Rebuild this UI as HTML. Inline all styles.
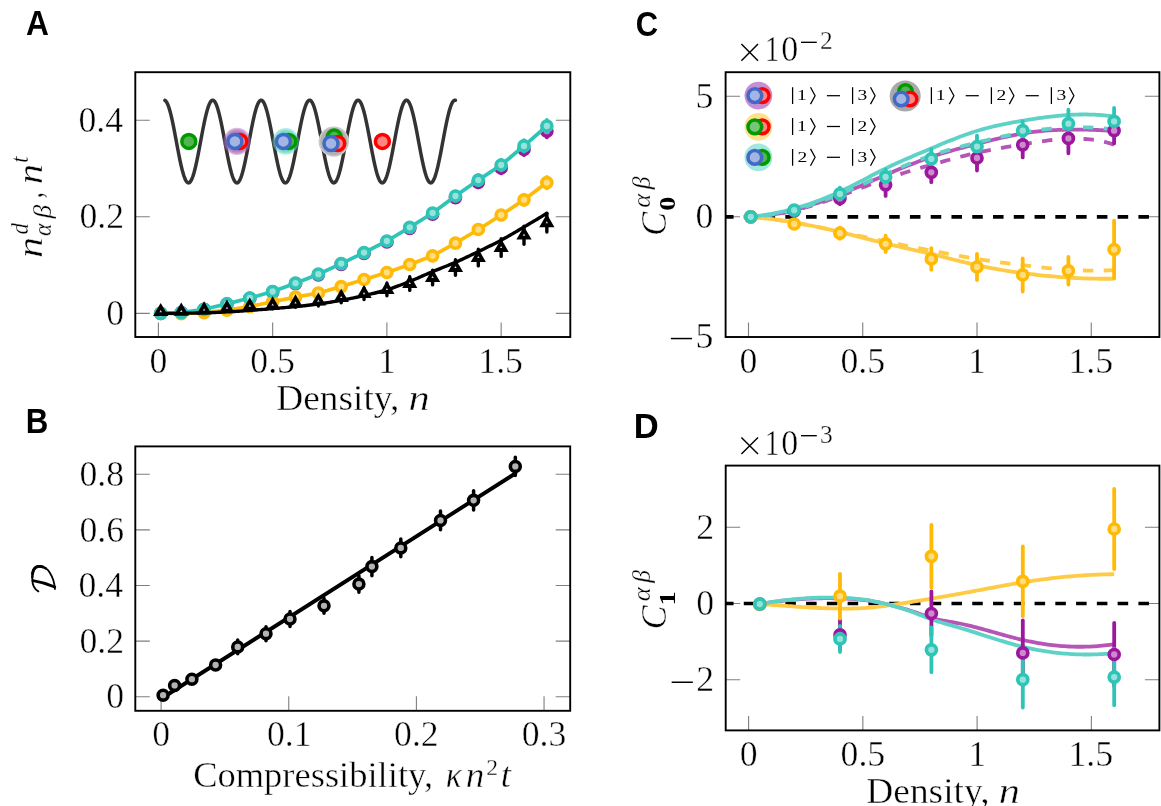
<!DOCTYPE html>
<html><head><meta charset="utf-8"><title>Figure</title>
<style>
html,body{margin:0;padding:0;background:#fff;}
body{width:1161px;height:806px;overflow:hidden;font-family:"Liberation Serif",serif;}
svg{display:block;will-change:transform;}
text{fill:#000;paint-order:fill stroke;}
</style></head><body>
<svg width="1161" height="806" viewBox="0 0 1161 806">
<rect width="1161" height="806" fill="#fff"/>
<path d="M158.40 337.00v-14.5M272.65 337.00v-14.5M386.90 337.00v-14.5M501.15 337.00v-14.5M135.30 313.40h14.5M570.30 313.40h-14.5M135.30 216.80h14.5M570.30 216.80h-14.5M135.30 120.20h14.5M570.30 120.20h-14.5" stroke="#7f7f7f" stroke-width="1.1" fill="none"/>
<path d="M164.90 100.35L165.38 100.65L165.87 101.11L166.35 101.73L166.84 102.51L167.32 103.44L167.81 104.53L168.29 105.76L168.78 107.13L169.26 108.64L169.75 110.28L170.23 112.04L170.72 113.92L171.20 115.91L171.69 118.00L172.17 120.18L172.66 122.45L173.14 124.79L173.63 127.20L174.11 129.67L174.60 132.18L175.08 134.73L175.57 137.30L176.05 139.90L176.54 142.50L177.02 145.09L177.51 147.68L177.99 150.24L178.48 152.76L178.96 155.24L179.45 157.66L179.93 160.03L180.42 162.31L180.90 164.52L181.39 166.64L181.87 168.65L182.36 170.56L182.84 172.36L183.33 174.03L183.81 175.57L184.30 176.98L184.78 178.25L185.27 179.38L185.75 180.35L186.24 181.17L186.72 181.84L187.21 182.34L187.69 182.69L188.18 182.87L188.66 182.89L189.15 182.74L189.63 182.43L190.12 181.96L190.60 181.33L191.09 180.55L191.57 179.61L192.06 178.51L192.54 177.28L193.03 175.90L193.51 174.38L194.00 172.74L194.48 170.97L194.97 169.09L195.45 167.09L195.94 165.00L196.42 162.81L196.91 160.54L197.39 158.19L197.88 155.78L198.36 153.31L198.85 150.80L199.33 148.25L199.82 145.67L200.30 143.07L200.79 140.47L201.27 137.88L201.76 135.30L202.24 132.74L202.73 130.22L203.21 127.74L203.70 125.32L204.18 122.96L204.67 120.68L205.15 118.47L205.64 116.36L206.12 114.35L206.61 112.45L207.09 110.66L207.58 108.99L208.06 107.45L208.55 106.05L209.03 104.79L209.52 103.67L210.00 102.70L210.49 101.89L210.97 101.23L211.46 100.74L211.94 100.40L212.43 100.23L212.91 100.22L213.40 100.37L213.88 100.69L214.37 101.16L214.85 101.80L215.34 102.60L215.82 103.54L216.31 104.64L216.79 105.89L217.28 107.27L217.76 108.80L218.25 110.45L218.73 112.22L219.22 114.11L219.70 116.11L220.19 118.21L220.67 120.40L221.16 122.67L221.64 125.02L222.13 127.44L222.61 129.91L223.10 132.43L223.58 134.98L224.07 137.56L224.55 140.15L225.04 142.75L225.52 145.35L226.01 147.93L226.49 150.48L226.98 153.00L227.46 155.48L227.95 157.90L228.43 160.25L228.92 162.53L229.40 164.73L229.89 166.84L230.37 168.84L230.86 170.74L231.34 172.53L231.83 174.19L232.31 175.72L232.80 177.11L233.28 178.37L233.77 179.48L234.25 180.44L234.74 181.25L235.22 181.89L235.71 182.38L236.19 182.71L236.68 182.88L237.16 182.88L237.65 182.72L238.13 182.40L238.62 181.91L239.10 181.26L239.59 180.46L240.07 179.51L240.56 178.40L241.04 177.15L241.53 175.75L242.01 174.23L242.50 172.57L242.98 170.79L243.47 168.89L243.95 166.89L244.44 164.79L244.92 162.59L245.41 160.31L245.89 157.96L246.38 155.54L246.86 153.07L247.35 150.55L247.83 147.99L248.32 145.41L248.80 142.82L249.29 140.22L249.77 137.62L250.26 135.05L250.74 132.49L251.23 129.97L251.71 127.50L252.20 125.08L252.68 122.73L253.17 120.46L253.65 118.26L254.14 116.16L254.62 114.16L255.11 112.27L255.59 110.49L256.08 108.84L256.56 107.31L257.05 105.92L257.53 104.67L258.02 103.57L258.50 102.62L258.99 101.82L259.47 101.18L259.96 100.70L260.44 100.38L260.93 100.22L261.41 100.22L261.89 100.39L262.38 100.72L262.86 101.22L263.35 101.87L263.83 102.68L264.32 103.64L264.80 104.76L265.29 106.02L265.77 107.42L266.26 108.95L266.74 110.61L267.23 112.40L267.71 114.30L268.20 116.31L268.68 118.42L269.17 120.62L269.65 122.90L270.14 125.26L270.62 127.68L271.11 130.15L271.59 132.68L272.08 135.23L272.56 137.81L273.05 140.41L273.53 143.01L274.02 145.60L274.50 148.18L274.99 150.73L275.47 153.25L275.96 155.72L276.44 158.13L276.93 160.48L277.41 162.75L277.90 164.94L278.38 167.04L278.87 169.04L279.35 170.92L279.84 172.69L280.32 174.34L280.81 175.86L281.29 177.24L281.78 178.48L282.26 179.58L282.75 180.53L283.23 181.32L283.72 181.95L284.20 182.42L284.69 182.74L285.17 182.89L285.66 182.87L286.14 182.69L286.63 182.35L287.11 181.85L287.60 181.19L288.08 180.38L288.57 179.40L289.05 178.28L289.54 177.02L290.02 175.61L290.51 174.07L290.99 172.40L291.48 170.61L291.96 168.70L292.45 166.69L292.93 164.58L293.42 162.37L293.90 160.09L294.39 157.73L294.87 155.30L295.36 152.82L295.84 150.30L296.33 147.74L296.81 145.16L297.30 142.57L297.78 139.97L298.27 137.37L298.75 134.79L299.24 132.24L299.72 129.73L300.21 127.26L300.69 124.85L301.18 122.51L301.66 120.24L302.15 118.05L302.63 115.96L303.12 113.97L303.60 112.09L304.09 110.32L304.57 108.68L305.06 107.17L305.54 105.79L306.03 104.56L306.51 103.47L307.00 102.53L307.48 101.75L307.97 101.12L308.45 100.66L308.94 100.35L309.42 100.21L309.91 100.23L310.39 100.42L310.88 100.77L311.36 101.28L311.85 101.94L312.33 102.77L312.82 103.75L313.30 104.88L313.79 106.15L314.27 107.56L314.76 109.11L315.24 110.78L315.73 112.58L316.21 114.49L316.70 116.51L317.18 118.63L317.67 120.84L318.15 123.13L318.64 125.49L319.12 127.92L319.61 130.40L320.09 132.92L320.58 135.48L321.06 138.07L321.55 140.66L322.03 143.26L322.52 145.86L323.00 148.43L323.49 150.98L323.97 153.49L324.46 155.96L324.94 158.36L325.43 160.71L325.91 162.97L326.40 165.15L326.88 167.24L327.37 169.22L327.85 171.10L328.34 172.86L328.82 174.50L329.31 176.00L329.79 177.37L330.28 178.60L330.76 179.68L331.25 180.61L331.73 181.39L332.22 182.00L332.70 182.46L333.19 182.76L333.67 182.89L334.16 182.86L334.64 182.67L335.13 182.31L335.61 181.80L336.10 181.12L336.58 180.29L337.07 179.30L337.55 178.17L338.04 176.89L338.52 175.47L339.01 173.91L339.49 172.23L339.98 170.43L340.46 168.51L340.95 166.49L341.43 164.36L341.92 162.15L342.40 159.86L342.89 157.49L343.37 155.06L343.86 152.58L344.34 150.05L344.83 147.49L345.31 144.91L345.80 142.31L346.28 139.71L346.77 137.12L347.25 134.54L347.74 132.00L348.22 129.49L348.71 127.02L349.19 124.62L349.68 122.28L350.16 120.02L350.65 117.84L351.13 115.76L351.62 113.78L352.10 111.91L352.59 110.16L353.07 108.53L353.56 107.03L354.04 105.67L354.53 104.45L355.01 103.37L355.50 102.45L355.98 101.68L356.47 101.07L356.95 100.62L357.44 100.33L357.92 100.21L358.41 100.24L358.89 100.45L359.37 100.81L359.86 101.33L360.34 102.02L360.83 102.86L361.31 103.85L361.80 104.99L362.28 106.28L362.77 107.71L363.25 109.27L363.74 110.95L364.22 112.76L364.71 114.69L365.19 116.72L365.68 118.84L366.16 121.06L366.65 123.36L367.13 125.73L367.62 128.16L368.10 130.64L368.59 133.17L369.07 135.73L369.56 138.32L370.04 140.92L370.53 143.52L371.01 146.11L371.50 148.68L371.98 151.23L372.47 153.74L372.95 156.20L373.44 158.60L373.92 160.93L374.41 163.19L374.89 165.36L375.38 167.44L375.86 169.41L376.35 171.28L376.83 173.03L377.32 174.65L377.80 176.14L378.29 177.50L378.77 178.71L379.26 179.78L379.74 180.69L380.23 181.45L380.71 182.06L381.20 182.50L381.68 182.78L382.17 182.90L382.65 182.85L383.14 182.64L383.62 182.27L384.11 181.74L384.59 181.04L385.08 180.20L385.56 179.20L386.05 178.05L386.53 176.75L387.02 175.32L387.50 173.75L387.99 172.06L388.47 170.24L388.96 168.32L389.44 166.28L389.93 164.15L390.41 161.93L390.90 159.63L391.38 157.26L391.87 154.82L392.35 152.33L392.84 149.80L393.32 147.24L393.81 144.65L394.29 142.06L394.78 139.46L395.26 136.86L395.75 134.29L396.23 131.75L396.72 129.24L397.20 126.79L397.69 124.39L398.17 122.06L398.66 119.80L399.14 117.64L399.63 115.56L400.11 113.59L400.60 111.73L401.08 109.99L401.57 108.37L402.05 106.89L402.54 105.54L403.02 104.33L403.51 103.27L403.99 102.37L404.48 101.61L404.96 101.02L405.45 100.58L405.93 100.31L406.42 100.20L406.90 100.26L407.39 100.47L407.87 100.85L408.36 101.39L408.84 102.09L409.33 102.95L409.81 103.96L410.30 105.11L410.78 106.41L411.27 107.85L411.75 109.43L412.24 111.13L412.72 112.95L413.21 114.88L413.69 116.92L414.18 119.06L414.66 121.28L415.15 123.59L415.63 125.96L416.12 128.40L416.60 130.89L417.09 133.42L417.57 135.99L418.06 138.57L418.54 141.17L419.03 143.77L419.51 146.36L420.00 148.93L420.48 151.48L420.97 153.98L421.45 156.43L421.94 158.83L422.42 161.16L422.91 163.41L423.39 165.57L423.88 167.64L424.36 169.60L424.85 171.46L425.33 173.19L425.82 174.80L426.30 176.28L426.79 177.62L427.27 178.82L427.76 179.87L428.24 180.77L428.73 181.52L429.21 182.11L429.70 182.53L430.18 182.80L430.67 182.90L431.15 182.84L431.64 182.61L432.12 182.22L432.61 181.68L433.09 180.97L433.58 180.11L434.06 179.09L434.55 177.93L435.03 176.62L435.52 175.17L436.00 173.59L436.49 171.89L436.97 170.06L437.46 168.12L437.94 166.08L438.43 163.94L438.91 161.71L439.40 159.40L439.88 157.02L440.37 154.58L440.85 152.09L441.34 149.55L441.82 146.99L442.31 144.40L442.79 141.80L443.28 139.20L443.76 136.61L444.25 134.04L444.73 131.50L445.22 129.00L445.70 126.55L446.19 124.16L446.67 121.83L447.16 119.59L447.64 117.43L448.13 115.36L448.61 113.41L449.10 111.56L449.58 109.83L450.07 108.22L450.55 106.75L451.04 105.42L451.52 104.22L452.01 103.18L452.49 102.29L452.98 101.55L453.46 100.97L453.95 100.55L454.43 100.29L454.92 100.20L455.40 100.27" fill="none" stroke="#333333" stroke-width="3.5" stroke-linejoin="round" stroke-linecap="round"/>
<circle cx="188.80" cy="141.40" r="7.0" fill="#52b552" stroke="#009a00" stroke-width="3.5"/>
<circle cx="237.00" cy="141.40" r="13.70" fill="#ab6ab8" fill-opacity="0.45"/>
<circle cx="237.00" cy="141.40" r="12.33" fill="#ab6ab8" fill-opacity="0.45"/>
<circle cx="237.00" cy="141.40" r="10.96" fill="#ab6ab8" fill-opacity="0.45"/>
<circle cx="237.00" cy="141.40" r="9.59" fill="#ab6ab8" fill-opacity="0.45"/>
<circle cx="239.80" cy="141.40" r="7.0" fill="#ff8585" stroke="#ff0000" stroke-width="3.5"/>
<circle cx="234.90" cy="141.40" r="7.0" fill="#a3b5e2" stroke="#4169c8" stroke-width="3.5"/>
<circle cx="285.70" cy="141.40" r="13.30" fill="#5fd3c4" fill-opacity="0.45"/>
<circle cx="285.70" cy="141.40" r="11.97" fill="#5fd3c4" fill-opacity="0.45"/>
<circle cx="285.70" cy="141.40" r="10.64" fill="#5fd3c4" fill-opacity="0.45"/>
<circle cx="285.70" cy="141.40" r="9.31" fill="#5fd3c4" fill-opacity="0.45"/>
<circle cx="288.80" cy="141.40" r="7.0" fill="#52b552" stroke="#009a00" stroke-width="3.5"/>
<circle cx="283.40" cy="141.40" r="7.0" fill="#a3b5e2" stroke="#4169c8" stroke-width="3.5"/>
<circle cx="333.8" cy="141.6" r="15.2" fill="#c9c9c9"/><circle cx="333.8" cy="141.6" r="13.6" fill="#b2b2b2"/>
<circle cx="334.20" cy="137.10" r="7.0" fill="#52b552" stroke="#009a00" stroke-width="3.5"/>
<circle cx="337.70" cy="143.50" r="7.0" fill="#ff8585" stroke="#ff0000" stroke-width="3.5"/>
<circle cx="331.00" cy="143.50" r="7.0" fill="#a3b5e2" stroke="#4169c8" stroke-width="3.5"/>
<circle cx="382.40" cy="141.40" r="7.0" fill="#ff8585" stroke="#ff0000" stroke-width="3.5"/>
<path d="M455.45 192.95V202.25M478.30 177.15V187.45M501.15 162.55V173.45M524.00 143.75V155.25M546.85 124.95V137.45" stroke="#9c179e" stroke-width="3.7" stroke-linecap="round" fill="none"/>
<circle cx="160.69" cy="313.30" r="5.0" fill="#cd8bce" stroke="#9c179e" stroke-width="3.7"/>
<circle cx="181.25" cy="312.60" r="5.0" fill="#cd8bce" stroke="#9c179e" stroke-width="3.7"/>
<circle cx="204.10" cy="309.30" r="5.0" fill="#cd8bce" stroke="#9c179e" stroke-width="3.7"/>
<circle cx="226.95" cy="304.10" r="5.0" fill="#cd8bce" stroke="#9c179e" stroke-width="3.7"/>
<circle cx="249.80" cy="298.30" r="5.0" fill="#cd8bce" stroke="#9c179e" stroke-width="3.7"/>
<circle cx="272.65" cy="291.90" r="5.0" fill="#cd8bce" stroke="#9c179e" stroke-width="3.7"/>
<circle cx="295.50" cy="283.70" r="5.0" fill="#cd8bce" stroke="#9c179e" stroke-width="3.7"/>
<circle cx="318.35" cy="274.80" r="5.0" fill="#cd8bce" stroke="#9c179e" stroke-width="3.7"/>
<circle cx="341.20" cy="264.30" r="5.0" fill="#cd8bce" stroke="#9c179e" stroke-width="3.7"/>
<circle cx="364.05" cy="253.40" r="5.0" fill="#cd8bce" stroke="#9c179e" stroke-width="3.7"/>
<circle cx="386.90" cy="241.90" r="5.0" fill="#cd8bce" stroke="#9c179e" stroke-width="3.7"/>
<circle cx="409.75" cy="228.30" r="5.0" fill="#cd8bce" stroke="#9c179e" stroke-width="3.7"/>
<circle cx="432.60" cy="214.20" r="5.0" fill="#cd8bce" stroke="#9c179e" stroke-width="3.7"/>
<circle cx="455.45" cy="197.60" r="5.0" fill="#cd8bce" stroke="#9c179e" stroke-width="3.7"/>
<circle cx="478.30" cy="182.30" r="5.0" fill="#cd8bce" stroke="#9c179e" stroke-width="3.7"/>
<circle cx="501.15" cy="168.00" r="5.0" fill="#cd8bce" stroke="#9c179e" stroke-width="3.7"/>
<circle cx="524.00" cy="149.50" r="5.0" fill="#cd8bce" stroke="#9c179e" stroke-width="3.7"/>
<circle cx="546.85" cy="131.20" r="5.0" fill="#cd8bce" stroke="#9c179e" stroke-width="3.7"/>
<path d="M160.69 313.40L181.25 313.60L204.10 312.60L226.95 310.20L249.80 306.60L272.65 301.80L295.50 297.10L318.35 293.00L341.20 286.60L364.05 279.50L386.90 272.50L409.75 264.50L432.60 255.80L455.45 243.20L478.30 229.50L501.15 215.00L524.00 199.80L546.85 182.60" fill="none" stroke="#ffba08" stroke-width="3.7" stroke-linejoin="round"/>
<path d="M524.00 194.65V204.95M546.85 176.75V188.45" stroke="#ffba08" stroke-width="3.7" stroke-linecap="round" fill="none"/>
<circle cx="160.69" cy="313.40" r="5.0" fill="#ffdd83" stroke="#ffba08" stroke-width="3.7"/>
<circle cx="181.25" cy="313.60" r="5.0" fill="#ffdd83" stroke="#ffba08" stroke-width="3.7"/>
<circle cx="204.10" cy="312.60" r="5.0" fill="#ffdd83" stroke="#ffba08" stroke-width="3.7"/>
<circle cx="226.95" cy="310.20" r="5.0" fill="#ffdd83" stroke="#ffba08" stroke-width="3.7"/>
<circle cx="249.80" cy="306.60" r="5.0" fill="#ffdd83" stroke="#ffba08" stroke-width="3.7"/>
<circle cx="272.65" cy="301.80" r="5.0" fill="#ffdd83" stroke="#ffba08" stroke-width="3.7"/>
<circle cx="295.50" cy="297.10" r="5.0" fill="#ffdd83" stroke="#ffba08" stroke-width="3.7"/>
<circle cx="318.35" cy="293.00" r="5.0" fill="#ffdd83" stroke="#ffba08" stroke-width="3.7"/>
<circle cx="341.20" cy="286.60" r="5.0" fill="#ffdd83" stroke="#ffba08" stroke-width="3.7"/>
<circle cx="364.05" cy="279.50" r="5.0" fill="#ffdd83" stroke="#ffba08" stroke-width="3.7"/>
<circle cx="386.90" cy="272.50" r="5.0" fill="#ffdd83" stroke="#ffba08" stroke-width="3.7"/>
<circle cx="409.75" cy="264.50" r="5.0" fill="#ffdd83" stroke="#ffba08" stroke-width="3.7"/>
<circle cx="432.60" cy="255.80" r="5.0" fill="#ffdd83" stroke="#ffba08" stroke-width="3.7"/>
<circle cx="455.45" cy="243.20" r="5.0" fill="#ffdd83" stroke="#ffba08" stroke-width="3.7"/>
<circle cx="478.30" cy="229.50" r="5.0" fill="#ffdd83" stroke="#ffba08" stroke-width="3.7"/>
<circle cx="501.15" cy="215.00" r="5.0" fill="#ffdd83" stroke="#ffba08" stroke-width="3.7"/>
<circle cx="524.00" cy="199.80" r="5.0" fill="#ffdd83" stroke="#ffba08" stroke-width="3.7"/>
<circle cx="546.85" cy="182.60" r="5.0" fill="#ffdd83" stroke="#ffba08" stroke-width="3.7"/>
<path d="M160.69 313.30L181.25 312.60L204.10 309.30L226.95 303.90L249.80 298.00L272.65 291.50L295.50 283.20L318.35 274.20L341.20 263.60L364.05 252.60L386.90 241.00L409.75 227.30L432.60 213.00L455.45 196.00L478.30 180.10L501.15 165.00L524.00 145.90L546.85 126.00" fill="none" stroke="#2ec4b6" stroke-width="3.7" stroke-linejoin="round"/>
<path d="M455.45 191.35V200.65M478.30 174.95V185.25M501.15 159.55V170.45M524.00 140.15V151.65M546.85 119.75V132.25" stroke="#2ec4b6" stroke-width="3.7" stroke-linecap="round" fill="none"/>
<circle cx="160.69" cy="313.30" r="5.0" fill="#97e2da" stroke="#2ec4b6" stroke-width="3.7"/>
<circle cx="181.25" cy="312.60" r="5.0" fill="#97e2da" stroke="#2ec4b6" stroke-width="3.7"/>
<circle cx="204.10" cy="309.30" r="5.0" fill="#97e2da" stroke="#2ec4b6" stroke-width="3.7"/>
<circle cx="226.95" cy="303.90" r="5.0" fill="#97e2da" stroke="#2ec4b6" stroke-width="3.7"/>
<circle cx="249.80" cy="298.00" r="5.0" fill="#97e2da" stroke="#2ec4b6" stroke-width="3.7"/>
<circle cx="272.65" cy="291.50" r="5.0" fill="#97e2da" stroke="#2ec4b6" stroke-width="3.7"/>
<circle cx="295.50" cy="283.20" r="5.0" fill="#97e2da" stroke="#2ec4b6" stroke-width="3.7"/>
<circle cx="318.35" cy="274.20" r="5.0" fill="#97e2da" stroke="#2ec4b6" stroke-width="3.7"/>
<circle cx="341.20" cy="263.60" r="5.0" fill="#97e2da" stroke="#2ec4b6" stroke-width="3.7"/>
<circle cx="364.05" cy="252.60" r="5.0" fill="#97e2da" stroke="#2ec4b6" stroke-width="3.7"/>
<circle cx="386.90" cy="241.00" r="5.0" fill="#97e2da" stroke="#2ec4b6" stroke-width="3.7"/>
<circle cx="409.75" cy="227.30" r="5.0" fill="#97e2da" stroke="#2ec4b6" stroke-width="3.7"/>
<circle cx="432.60" cy="213.00" r="5.0" fill="#97e2da" stroke="#2ec4b6" stroke-width="3.7"/>
<circle cx="455.45" cy="196.00" r="5.0" fill="#97e2da" stroke="#2ec4b6" stroke-width="3.7"/>
<circle cx="478.30" cy="180.10" r="5.0" fill="#97e2da" stroke="#2ec4b6" stroke-width="3.7"/>
<circle cx="501.15" cy="165.00" r="5.0" fill="#97e2da" stroke="#2ec4b6" stroke-width="3.7"/>
<circle cx="524.00" cy="145.90" r="5.0" fill="#97e2da" stroke="#2ec4b6" stroke-width="3.7"/>
<circle cx="546.85" cy="126.00" r="5.0" fill="#97e2da" stroke="#2ec4b6" stroke-width="3.7"/>
<path d="M160.69 313.40L162.63 313.40L164.57 313.40L166.51 313.39L168.45 313.38L170.39 313.37L172.33 313.36L174.27 313.35L176.21 313.34L178.15 313.32L180.09 313.31L182.03 313.29L183.97 313.27L185.91 313.24L187.85 313.21L189.79 313.17L191.73 313.13L193.67 313.08L195.61 313.03L197.56 312.98L199.50 312.93L201.44 312.88L203.38 312.82L205.32 312.76L207.26 312.71L209.20 312.64L211.14 312.58L213.08 312.50L215.02 312.43L216.96 312.35L218.90 312.27L220.84 312.19L222.78 312.10L224.72 312.01L226.66 311.91L228.60 311.82L230.54 311.71L232.48 311.59L234.43 311.47L236.37 311.35L238.31 311.22L240.25 311.08L242.19 310.95L244.13 310.81L246.07 310.67L248.01 310.53L249.95 310.39L251.89 310.25L253.83 310.10L255.77 309.96L257.71 309.81L259.65 309.66L261.59 309.50L263.53 309.35L265.47 309.19L267.41 309.03L269.35 308.87L271.30 308.71L273.24 308.55L275.18 308.39L277.12 308.23L279.06 308.07L281.00 307.91L282.94 307.74L284.88 307.58L286.82 307.41L288.76 307.23L290.70 307.06L292.64 306.88L294.58 306.69L296.52 306.50L298.46 306.30L300.40 306.10L302.34 305.90L304.28 305.69L306.22 305.48L308.17 305.26L310.11 305.03L312.05 304.80L313.99 304.56L315.93 304.32L317.87 304.06L319.81 303.80L321.75 303.53L323.69 303.24L325.63 302.95L327.57 302.64L329.51 302.33L331.45 302.01L333.39 301.68L335.33 301.34L337.27 301.00L339.21 300.66L341.15 300.31L343.09 299.95L345.04 299.59L346.98 299.21L348.92 298.83L350.86 298.44L352.80 298.05L354.74 297.64L356.68 297.23L358.62 296.81L360.56 296.38L362.50 295.95L364.44 295.51L366.38 295.07L368.32 294.62L370.26 294.17L372.20 293.71L374.14 293.24L376.08 292.76L378.02 292.26L379.96 291.76L381.91 291.23L383.85 290.69L385.79 290.13L387.73 289.55L389.67 288.93L391.61 288.29L393.55 287.62L395.49 286.92L397.43 286.21L399.37 285.48L401.31 284.73L403.25 283.97L405.19 283.21L407.13 282.44L409.07 281.67L411.01 280.89L412.95 280.10L414.89 279.29L416.83 278.46L418.78 277.61L420.72 276.76L422.66 275.91L424.60 275.05L426.54 274.20L428.48 273.36L430.42 272.52L432.36 271.70L434.30 270.90L436.24 270.11L438.18 269.32L440.12 268.55L442.06 267.78L444.00 267.01L445.94 266.24L447.88 265.46L449.82 264.67L451.76 263.87L453.70 263.05L455.65 262.21L457.59 261.36L459.53 260.49L461.47 259.61L463.41 258.71L465.35 257.81L467.29 256.89L469.23 255.97L471.17 255.04L473.11 254.11L475.05 253.17L476.99 252.23L478.93 251.29L480.87 250.36L482.81 249.42L484.75 248.48L486.69 247.54L488.63 246.59L490.57 245.63L492.52 244.66L494.46 243.68L496.40 242.69L498.34 241.69L500.28 240.67L502.22 239.62L504.16 238.56L506.10 237.48L508.04 236.38L509.98 235.26L511.92 234.13L513.86 233.00L515.80 231.85L517.74 230.70L519.68 229.55L521.62 228.40L523.56 227.26L525.50 226.11L527.44 224.97L529.39 223.82L531.33 222.66L533.27 221.51L535.21 220.34L537.15 219.18L539.09 218.01L541.03 216.84L542.97 215.66L544.91 214.48L546.85 213.30" fill="none" stroke="#000" stroke-width="3.4" stroke-linejoin="round" stroke-linecap="round"/>
<path d="M249.80 303.90V308.50M272.65 301.20V308.80M295.50 298.70V307.30M318.35 296.40V306.00M341.20 292.20V302.80M364.05 287.90V299.50M386.90 283.20V295.80M409.75 276.80V290.40M432.60 270.30V284.90M455.45 259.70V275.30M478.30 249.30V265.90M501.15 238.80V256.40M524.00 226.10V244.30M546.85 213.50V232.10" stroke="#000" stroke-width="3.4" stroke-linecap="round" fill="none"/>
<path d="M160.69 302.90L168.28 316.10H153.09Z" fill="#000"/><path d="M160.69 310.10l1.2 2.1h-2.4z" fill="#d9d9d9"/>
<path d="M181.25 302.60L188.85 315.80H173.65Z" fill="#000"/><path d="M181.25 309.80l1.2 2.1h-2.4z" fill="#d9d9d9"/>
<path d="M204.10 301.20L211.70 314.40H196.50Z" fill="#000"/><path d="M204.10 308.40l1.2 2.1h-2.4z" fill="#d9d9d9"/>
<path d="M226.95 299.50L234.55 312.70H219.35Z" fill="#000"/><path d="M226.95 306.70l1.2 2.1h-2.4z" fill="#d9d9d9"/>
<path d="M249.80 297.40L257.40 310.60H242.20Z" fill="#000"/><path d="M249.80 304.60l1.2 2.1h-2.4z" fill="#d9d9d9"/>
<path d="M272.65 296.20L280.25 309.40H265.05Z" fill="#000"/><path d="M272.65 303.40l1.2 2.1h-2.4z" fill="#d9d9d9"/>
<path d="M295.50 294.20L303.10 307.40H287.90Z" fill="#000"/><path d="M295.50 301.40l1.2 2.1h-2.4z" fill="#d9d9d9"/>
<path d="M318.35 292.40L325.95 305.60H310.75Z" fill="#000"/><path d="M318.35 299.60l1.2 2.1h-2.4z" fill="#d9d9d9"/>
<path d="M341.20 288.70L348.80 301.90H333.60Z" fill="#000"/><path d="M341.20 295.90l1.2 2.1h-2.4z" fill="#d9d9d9"/>
<path d="M364.05 284.90L371.65 298.10H356.45Z" fill="#000"/><path d="M364.05 292.10l1.2 2.1h-2.4z" fill="#d9d9d9"/>
<path d="M386.90 280.70L394.50 293.90H379.30Z" fill="#000"/><path d="M386.90 287.90l1.2 2.1h-2.4z" fill="#d9d9d9"/>
<path d="M409.75 274.80L417.35 288.00H402.15Z" fill="#000"/><path d="M409.75 282.00l1.2 2.1h-2.4z" fill="#d9d9d9"/>
<path d="M432.60 268.80L440.20 282.00H425.00Z" fill="#000"/><path d="M432.60 276.00l1.2 2.1h-2.4z" fill="#d9d9d9"/>
<path d="M455.45 258.70L463.05 271.90H447.85Z" fill="#000"/><path d="M455.45 265.90l1.2 2.1h-2.4z" fill="#d9d9d9"/>
<path d="M478.30 248.80L485.90 262.00H470.70Z" fill="#000"/><path d="M478.30 256.00l1.2 2.1h-2.4z" fill="#d9d9d9"/>
<path d="M501.15 238.80L508.75 252.00H493.55Z" fill="#000"/><path d="M501.15 246.00l1.2 2.1h-2.4z" fill="#d9d9d9"/>
<path d="M524.00 226.40L531.60 239.60H516.40Z" fill="#000"/><path d="M524.00 233.60l1.2 2.1h-2.4z" fill="#d9d9d9"/>
<path d="M546.85 214.00L554.45 227.20H539.25Z" fill="#000"/><path d="M546.85 221.20l1.2 2.1h-2.4z" fill="#d9d9d9"/>
<rect x="135.30" y="72.20" width="435.00" height="264.80" fill="none" stroke="#000" stroke-width="1.9"/>
<path d="M161.10 710.80v-14.5M288.75 710.80v-14.5M416.40 710.80v-14.5M544.05 710.80v-14.5M135.30 696.80h14.5M570.20 696.80h-14.5M135.30 641.16h14.5M570.20 641.16h-14.5M135.30 585.52h14.5M570.20 585.52h-14.5M135.30 529.88h14.5M570.20 529.88h-14.5M135.30 474.24h14.5M570.20 474.24h-14.5" stroke="#7f7f7f" stroke-width="1.1" fill="none"/>
<path d="M163.00 697.50L515.30 473.50" fill="none" stroke="#000" stroke-width="3.9" stroke-linejoin="round" stroke-linecap="round"/>
<path d="M237.70 640.05V653.75M266.00 626.65V640.75M290.00 611.55V626.45M324.00 598.35V613.25M358.90 575.85V592.35M371.90 557.55V575.65M400.80 539.05V556.75M440.50 510.95V529.85M473.60 490.65V509.95M515.30 457.35V475.45" stroke="#000" stroke-width="3.5" stroke-linecap="round" fill="none"/>
<circle cx="163.10" cy="695.20" r="4.95" fill="#b3b3b3" stroke="#000" stroke-width="3.6"/>
<circle cx="174.60" cy="685.40" r="4.95" fill="#b3b3b3" stroke="#000" stroke-width="3.6"/>
<circle cx="191.90" cy="679.20" r="4.95" fill="#b3b3b3" stroke="#000" stroke-width="3.6"/>
<circle cx="215.60" cy="665.00" r="4.95" fill="#b3b3b3" stroke="#000" stroke-width="3.6"/>
<circle cx="237.70" cy="646.90" r="4.95" fill="#b3b3b3" stroke="#000" stroke-width="3.6"/>
<circle cx="266.00" cy="633.70" r="4.95" fill="#b3b3b3" stroke="#000" stroke-width="3.6"/>
<circle cx="290.00" cy="619.00" r="4.95" fill="#b3b3b3" stroke="#000" stroke-width="3.6"/>
<circle cx="324.00" cy="605.80" r="4.95" fill="#b3b3b3" stroke="#000" stroke-width="3.6"/>
<circle cx="358.90" cy="584.10" r="4.95" fill="#b3b3b3" stroke="#000" stroke-width="3.6"/>
<circle cx="371.90" cy="566.60" r="4.95" fill="#b3b3b3" stroke="#000" stroke-width="3.6"/>
<circle cx="400.80" cy="547.90" r="4.95" fill="#b3b3b3" stroke="#000" stroke-width="3.6"/>
<circle cx="440.50" cy="520.40" r="4.95" fill="#b3b3b3" stroke="#000" stroke-width="3.6"/>
<circle cx="473.60" cy="500.30" r="4.95" fill="#b3b3b3" stroke="#000" stroke-width="3.6"/>
<circle cx="515.30" cy="466.40" r="4.95" fill="#b3b3b3" stroke="#000" stroke-width="3.6"/>
<rect x="135.30" y="446.40" width="434.90" height="264.40" fill="none" stroke="#000" stroke-width="1.9"/>
<path d="M748.50 337.00v-14.5M862.75 337.00v-14.5M977.00 337.00v-14.5M1091.25 337.00v-14.5M725.60 337.30h14.5M1159.40 337.30h-14.5M725.60 216.80h14.5M1159.40 216.80h-14.5M725.60 96.30h14.5M1159.40 96.30h-14.5" stroke="#7f7f7f" stroke-width="1.1" fill="none"/>
<path d="M723.0 216.8H1158.9" stroke="#000" stroke-width="3.7" stroke-dasharray="10.55 10.22" fill="none" clip-path="url(#clipC)"/>
<clipPath id="clipC"><rect x="725.6" y="72.2" width="423.5" height="264.8"/></clipPath>
<path d="M750.78 216.80L753.22 216.69L755.66 216.54L758.10 216.36L760.54 216.15L762.98 215.90L765.42 215.62L767.85 215.30L770.29 214.95L772.73 214.57L775.17 214.17L777.61 213.73L780.05 213.26L782.48 212.76L784.92 212.24L787.36 211.69L789.80 211.11L792.24 210.50L794.68 209.88L797.11 209.22L799.55 208.55L801.99 207.84L804.43 207.12L806.87 206.38L809.31 205.61L811.74 204.83L814.18 204.02L816.62 203.20L819.06 202.35L821.50 201.49L823.94 200.62L826.37 199.72L828.81 198.81L831.25 197.89L833.69 196.95L836.13 196.00L838.57 195.03L841.00 194.06L843.44 193.07L845.88 192.07L848.32 191.06L850.76 190.04L853.20 189.01L855.63 187.98L858.07 186.94L860.51 185.89L862.95 184.84L865.39 183.79L867.83 182.73L870.26 181.67L872.70 180.61L875.14 179.55L877.58 178.48L880.02 177.42L882.46 176.36L884.89 175.31L887.33 174.25L889.77 173.20L892.21 172.16L894.65 171.12L897.09 170.09L899.52 169.07L901.96 168.06L904.40 167.05L906.84 166.06L909.28 165.08L911.72 164.11L914.15 163.15L916.59 162.21L919.03 161.29L921.47 160.38L923.91 159.49L926.35 158.61L928.78 157.76L931.22 156.93L933.66 156.11L936.10 155.32L938.54 154.54L940.98 153.78L943.42 153.04L945.85 152.32L948.29 151.60L950.73 150.91L953.17 150.22L955.61 149.54L958.05 148.88L960.48 148.22L962.92 147.57L965.36 146.92L967.80 146.28L970.24 145.65L972.68 145.02L975.11 144.39L977.55 143.76L979.99 143.13L982.43 142.50L984.87 141.88L987.31 141.26L989.74 140.64L992.18 140.03L994.62 139.43L997.06 138.84L999.50 138.26L1001.94 137.69L1004.37 137.13L1006.81 136.59L1009.25 136.06L1011.69 135.55L1014.13 135.06L1016.57 134.59L1019.00 134.14L1021.44 133.71L1023.88 133.31L1026.32 132.93L1028.76 132.57L1031.20 132.23L1033.63 131.92L1036.07 131.63L1038.51 131.36L1040.95 131.11L1043.39 130.88L1045.83 130.67L1048.26 130.48L1050.70 130.31L1053.14 130.16L1055.58 130.03L1058.02 129.91L1060.46 129.81L1062.89 129.73L1065.33 129.66L1067.77 129.61L1070.21 129.57L1072.65 129.55L1075.09 129.54L1077.52 129.55L1079.96 129.57L1082.40 129.60L1084.84 129.64L1087.28 129.69L1089.72 129.76L1092.15 129.83L1094.59 129.92L1097.03 130.01L1099.47 130.12L1101.91 130.23L1104.35 130.35L1106.78 130.48L1109.22 130.61L1111.66 130.75L1114.10 130.90" fill="none" stroke="#b655b8" stroke-width="3.8" stroke-linejoin="round"/>
<path d="M750.78 216.80L753.22 216.72L755.66 216.60L758.10 216.45L760.54 216.26L762.98 216.04L765.42 215.78L767.85 215.49L770.29 215.17L772.73 214.82L775.17 214.43L777.61 214.02L780.05 213.58L782.48 213.11L784.92 212.62L787.36 212.10L789.80 211.55L792.24 210.98L794.68 210.38L797.11 209.76L799.55 209.12L801.99 208.46L804.43 207.78L806.87 207.07L809.31 206.35L811.74 205.61L814.18 204.85L816.62 204.08L819.06 203.29L821.50 202.48L823.94 201.66L826.37 200.83L828.81 199.98L831.25 199.13L833.69 198.26L836.13 197.38L838.57 196.49L841.00 195.59L843.44 194.69L845.88 193.78L848.32 192.86L850.76 191.94L853.20 191.02L855.63 190.09L858.07 189.16L860.51 188.24L862.95 187.31L865.39 186.39L867.83 185.47L870.26 184.56L872.70 183.65L875.14 182.75L877.58 181.86L880.02 180.98L882.46 180.11L884.89 179.25L887.33 178.40L889.77 177.57L892.21 176.75L894.65 175.94L897.09 175.14L899.52 174.35L901.96 173.57L904.40 172.81L906.84 172.05L909.28 171.30L911.72 170.55L914.15 169.82L916.59 169.09L919.03 168.37L921.47 167.65L923.91 166.94L926.35 166.23L928.78 165.52L931.22 164.82L933.66 164.12L936.10 163.43L938.54 162.74L940.98 162.05L943.42 161.37L945.85 160.69L948.29 160.02L950.73 159.36L953.17 158.70L955.61 158.05L958.05 157.41L960.48 156.78L962.92 156.16L965.36 155.55L967.80 154.95L970.24 154.36L972.68 153.79L975.11 153.23L977.55 152.68L979.99 152.14L982.43 151.62L984.87 151.11L987.31 150.61L989.74 150.13L992.18 149.65L994.62 149.18L997.06 148.73L999.50 148.28L1001.94 147.84L1004.37 147.40L1006.81 146.98L1009.25 146.55L1011.69 146.14L1014.13 145.73L1016.57 145.32L1019.00 144.91L1021.44 144.51L1023.88 144.11L1026.32 143.71L1028.76 143.31L1031.20 142.92L1033.63 142.54L1036.07 142.16L1038.51 141.80L1040.95 141.44L1043.39 141.10L1045.83 140.78L1048.26 140.47L1050.70 140.18L1053.14 139.92L1055.58 139.67L1058.02 139.45L1060.46 139.25L1062.89 139.08L1065.33 138.94L1067.77 138.82L1070.21 138.74L1072.65 138.70L1075.09 138.68L1077.52 138.71L1079.96 138.77L1082.40 138.87L1084.84 139.02L1087.28 139.21L1089.72 139.44L1092.15 139.72L1094.59 140.05L1097.03 140.42L1099.47 140.85L1101.91 141.33L1104.35 141.87L1106.78 142.46L1109.22 143.12L1111.66 143.83L1114.10 144.60" fill="none" stroke="#b655b8" stroke-width="3.8" stroke-linejoin="round" stroke-dasharray="10.4 10.4" stroke-dashoffset="10.13"/>
<path d="M750.78 216.80L753.22 217.02L755.66 217.26L758.10 217.50L760.54 217.76L762.98 218.03L765.42 218.32L767.85 218.61L770.29 218.92L772.73 219.23L775.17 219.56L777.61 219.90L780.05 220.25L782.48 220.61L784.92 220.99L787.36 221.37L789.80 221.76L792.24 222.17L794.68 222.58L797.11 223.01L799.55 223.44L801.99 223.89L804.43 224.34L806.87 224.80L809.31 225.28L811.74 225.76L814.18 226.26L816.62 226.76L819.06 227.27L821.50 227.79L823.94 228.32L826.37 228.86L828.81 229.41L831.25 229.96L833.69 230.53L836.13 231.10L838.57 231.68L841.00 232.27L843.44 232.86L845.88 233.47L848.32 234.08L850.76 234.69L853.20 235.31L855.63 235.93L858.07 236.56L860.51 237.18L862.95 237.81L865.39 238.44L867.83 239.06L870.26 239.68L872.70 240.30L875.14 240.92L877.58 241.53L880.02 242.14L882.46 242.74L884.89 243.33L887.33 243.91L889.77 244.49L892.21 245.06L894.65 245.62L897.09 246.18L899.52 246.74L901.96 247.29L904.40 247.84L906.84 248.38L909.28 248.93L911.72 249.48L914.15 250.03L916.59 250.58L919.03 251.13L921.47 251.69L923.91 252.25L926.35 252.82L928.78 253.40L931.22 253.98L933.66 254.57L936.10 255.17L938.54 255.78L940.98 256.39L943.42 257.00L945.85 257.62L948.29 258.24L950.73 258.86L953.17 259.47L955.61 260.09L958.05 260.70L960.48 261.31L962.92 261.91L965.36 262.50L967.80 263.09L970.24 263.66L972.68 264.23L975.11 264.78L977.55 265.32L979.99 265.85L982.43 266.36L984.87 266.86L987.31 267.34L989.74 267.82L992.18 268.28L994.62 268.73L997.06 269.16L999.50 269.59L1001.94 270.00L1004.37 270.40L1006.81 270.79L1009.25 271.17L1011.69 271.55L1014.13 271.91L1016.57 272.26L1019.00 272.60L1021.44 272.93L1023.88 273.26L1026.32 273.57L1028.76 273.88L1031.20 274.18L1033.63 274.47L1036.07 274.75L1038.51 275.02L1040.95 275.28L1043.39 275.53L1045.83 275.78L1048.26 276.01L1050.70 276.24L1053.14 276.46L1055.58 276.66L1058.02 276.86L1060.46 277.05L1062.89 277.23L1065.33 277.40L1067.77 277.56L1070.21 277.71L1072.65 277.85L1075.09 277.98L1077.52 278.10L1079.96 278.21L1082.40 278.32L1084.84 278.41L1087.28 278.49L1089.72 278.56L1092.15 278.62L1094.59 278.67L1097.03 278.71L1099.47 278.74L1101.91 278.76L1104.35 278.77L1106.78 278.77L1109.22 278.76L1111.66 278.73L1114.10 278.70" fill="none" stroke="#ffcb45" stroke-width="3.8" stroke-linejoin="round"/>
<path d="M750.78 216.80L753.22 217.02L755.66 217.25L758.10 217.49L760.54 217.75L762.98 218.02L765.42 218.30L767.85 218.60L770.29 218.90L772.73 219.22L775.17 219.56L777.61 219.90L780.05 220.25L782.48 220.61L784.92 220.99L787.36 221.37L789.80 221.77L792.24 222.17L794.68 222.58L797.11 223.00L799.55 223.43L801.99 223.87L804.43 224.31L806.87 224.77L809.31 225.23L811.74 225.70L814.18 226.17L816.62 226.65L819.06 227.14L821.50 227.63L823.94 228.13L826.37 228.63L828.81 229.14L831.25 229.65L833.69 230.17L836.13 230.69L838.57 231.21L841.00 231.74L843.44 232.27L845.88 232.80L848.32 233.34L850.76 233.88L853.20 234.41L855.63 234.95L858.07 235.49L860.51 236.03L862.95 236.57L865.39 237.11L867.83 237.65L870.26 238.19L872.70 238.72L875.14 239.25L877.58 239.78L880.02 240.31L882.46 240.83L884.89 241.35L887.33 241.86L889.77 242.37L892.21 242.88L894.65 243.38L897.09 243.88L899.52 244.37L901.96 244.87L904.40 245.35L906.84 245.84L909.28 246.32L911.72 246.80L914.15 247.28L916.59 247.76L919.03 248.23L921.47 248.70L923.91 249.18L926.35 249.65L928.78 250.12L931.22 250.59L933.66 251.05L936.10 251.52L938.54 251.99L940.98 252.46L943.42 252.92L945.85 253.38L948.29 253.84L950.73 254.29L953.17 254.75L955.61 255.19L958.05 255.64L960.48 256.08L962.92 256.51L965.36 256.94L967.80 257.36L970.24 257.78L972.68 258.19L975.11 258.59L977.55 258.99L979.99 259.38L982.43 259.76L984.87 260.13L987.31 260.50L989.74 260.86L992.18 261.21L994.62 261.56L997.06 261.90L999.50 262.23L1001.94 262.56L1004.37 262.89L1006.81 263.21L1009.25 263.53L1011.69 263.84L1014.13 264.15L1016.57 264.45L1019.00 264.75L1021.44 265.05L1023.88 265.34L1026.32 265.63L1028.76 265.92L1031.20 266.20L1033.63 266.48L1036.07 266.76L1038.51 267.03L1040.95 267.29L1043.39 267.55L1045.83 267.80L1048.26 268.04L1050.70 268.27L1053.14 268.50L1055.58 268.72L1058.02 268.93L1060.46 269.12L1062.89 269.31L1065.33 269.49L1067.77 269.66L1070.21 269.81L1072.65 269.96L1075.09 270.09L1077.52 270.21L1079.96 270.31L1082.40 270.40L1084.84 270.48L1087.28 270.54L1089.72 270.59L1092.15 270.62L1094.59 270.63L1097.03 270.63L1099.47 270.61L1101.91 270.57L1104.35 270.51L1106.78 270.44L1109.22 270.35L1111.66 270.23L1114.10 270.10" fill="none" stroke="#ffcb45" stroke-width="3.8" stroke-linejoin="round" stroke-dasharray="10.4 10.4" stroke-dashoffset="16.80"/>
<path d="M750.78 216.80L753.22 216.53L755.66 216.24L758.10 215.93L760.54 215.60L762.98 215.24L765.42 214.86L767.85 214.45L770.29 214.03L772.73 213.58L775.17 213.10L777.61 212.61L780.05 212.09L782.48 211.54L784.92 210.98L787.36 210.39L789.80 209.77L792.24 209.13L794.68 208.47L797.11 207.78L799.55 207.07L801.99 206.34L804.43 205.58L806.87 204.79L809.31 203.98L811.74 203.15L814.18 202.29L816.62 201.41L819.06 200.50L821.50 199.56L823.94 198.61L826.37 197.62L828.81 196.61L831.25 195.58L833.69 194.52L836.13 193.43L838.57 192.32L841.00 191.18L843.44 190.02L845.88 188.83L848.32 187.63L850.76 186.41L853.20 185.17L855.63 183.92L858.07 182.66L860.51 181.40L862.95 180.12L865.39 178.85L867.83 177.57L870.26 176.30L872.70 175.03L875.14 173.77L877.58 172.52L880.02 171.28L882.46 170.05L884.89 168.85L887.33 167.66L889.77 166.49L892.21 165.33L894.65 164.20L897.09 163.08L899.52 161.98L901.96 160.89L904.40 159.81L906.84 158.74L909.28 157.68L911.72 156.63L914.15 155.59L916.59 154.56L919.03 153.53L921.47 152.51L923.91 151.49L926.35 150.47L928.78 149.45L931.22 148.43L933.66 147.41L936.10 146.39L938.54 145.38L940.98 144.36L943.42 143.36L945.85 142.36L948.29 141.36L950.73 140.38L953.17 139.41L955.61 138.45L958.05 137.51L960.48 136.59L962.92 135.68L965.36 134.80L967.80 133.93L970.24 133.09L972.68 132.28L975.11 131.49L977.55 130.73L979.99 130.00L982.43 129.30L984.87 128.62L987.31 127.98L989.74 127.35L992.18 126.75L994.62 126.17L997.06 125.61L999.50 125.08L1001.94 124.56L1004.37 124.05L1006.81 123.57L1009.25 123.10L1011.69 122.64L1014.13 122.19L1016.57 121.76L1019.00 121.33L1021.44 120.91L1023.88 120.50L1026.32 120.10L1028.76 119.70L1031.20 119.32L1033.63 118.94L1036.07 118.57L1038.51 118.21L1040.95 117.87L1043.39 117.53L1045.83 117.21L1048.26 116.91L1050.70 116.62L1053.14 116.34L1055.58 116.08L1058.02 115.83L1060.46 115.61L1062.89 115.40L1065.33 115.21L1067.77 115.04L1070.21 114.89L1072.65 114.76L1075.09 114.66L1077.52 114.58L1079.96 114.52L1082.40 114.48L1084.84 114.47L1087.28 114.49L1089.72 114.53L1092.15 114.60L1094.59 114.70L1097.03 114.83L1099.47 114.99L1101.91 115.18L1104.35 115.40L1106.78 115.65L1109.22 115.93L1111.66 116.25L1114.10 116.60" fill="none" stroke="#5fd2c8" stroke-width="3.8" stroke-linejoin="round"/>
<path d="M750.78 216.80L753.22 216.68L755.66 216.52L758.10 216.33L760.54 216.10L762.98 215.84L765.42 215.54L767.85 215.22L770.29 214.86L772.73 214.47L775.17 214.05L777.61 213.60L780.05 213.12L782.48 212.62L784.92 212.08L787.36 211.52L789.80 210.93L792.24 210.31L794.68 209.67L797.11 209.01L799.55 208.32L801.99 207.61L804.43 206.87L806.87 206.11L809.31 205.33L811.74 204.53L814.18 203.71L816.62 202.88L819.06 202.02L821.50 201.14L823.94 200.25L826.37 199.33L828.81 198.41L831.25 197.46L833.69 196.50L836.13 195.53L838.57 194.55L841.00 193.55L843.44 192.53L845.88 191.51L848.32 190.48L850.76 189.43L853.20 188.38L855.63 187.32L858.07 186.25L860.51 185.18L862.95 184.10L865.39 183.02L867.83 181.93L870.26 180.84L872.70 179.75L875.14 178.66L877.58 177.57L880.02 176.48L882.46 175.40L884.89 174.31L887.33 173.23L889.77 172.16L892.21 171.09L894.65 170.03L897.09 168.97L899.52 167.93L901.96 166.89L904.40 165.86L906.84 164.85L909.28 163.85L911.72 162.86L914.15 161.88L916.59 160.92L919.03 159.98L921.47 159.05L923.91 158.14L926.35 157.25L928.78 156.38L931.22 155.53L933.66 154.70L936.10 153.89L938.54 153.10L940.98 152.33L943.42 151.58L945.85 150.84L948.29 150.12L950.73 149.41L953.17 148.72L955.61 148.04L958.05 147.38L960.48 146.72L962.92 146.08L965.36 145.44L967.80 144.81L970.24 144.19L972.68 143.58L975.11 142.97L977.55 142.36L979.99 141.76L982.43 141.17L984.87 140.57L987.31 139.99L989.74 139.41L992.18 138.83L994.62 138.27L997.06 137.71L999.50 137.16L1001.94 136.62L1004.37 136.09L1006.81 135.57L1009.25 135.07L1011.69 134.57L1014.13 134.09L1016.57 133.62L1019.00 133.16L1021.44 132.72L1023.88 132.30L1026.32 131.88L1028.76 131.49L1031.20 131.11L1033.63 130.75L1036.07 130.40L1038.51 130.07L1040.95 129.76L1043.39 129.46L1045.83 129.19L1048.26 128.93L1050.70 128.69L1053.14 128.46L1055.58 128.26L1058.02 128.07L1060.46 127.91L1062.89 127.76L1065.33 127.63L1067.77 127.52L1070.21 127.44L1072.65 127.37L1075.09 127.32L1077.52 127.30L1079.96 127.29L1082.40 127.31L1084.84 127.35L1087.28 127.41L1089.72 127.49L1092.15 127.60L1094.59 127.73L1097.03 127.88L1099.47 128.05L1101.91 128.25L1104.35 128.47L1106.78 128.72L1109.22 128.99L1111.66 129.28L1114.10 129.60" fill="none" stroke="#5fd2c8" stroke-width="3.8" stroke-linejoin="round" stroke-dasharray="10.4 10.4" stroke-dashoffset="7.01"/>
<path d="M794.20 209.70V211.90M839.90 192.50V204.30M885.60 173.70V195.90M931.30 162.40V182.20M977.00 145.40V170.60M1022.70 132.20V157.40M1068.40 123.50V153.30M1114.10 118.00V143.40" stroke="#9c179e" stroke-width="3.8" stroke-linecap="round" fill="none"/>
<path d="M794.20 222.90V225.10M839.90 227.60V238.80M885.60 235.70V251.90M931.30 248.10V269.70M977.00 253.90V280.10M1022.70 258.30V291.50M1068.40 257.00V284.60M1114.10 220.70V278.30" stroke="#ffba08" stroke-width="3.8" stroke-linecap="round" fill="none"/>
<path d="M794.20 209.10V211.30M839.90 187.60V200.20M885.60 169.30V184.50M931.30 149.20V168.60M977.00 135.60V157.60M1022.70 121.40V140.00M1068.40 109.60V137.80M1114.10 108.00V134.80" stroke="#2ec4b6" stroke-width="3.8" stroke-linecap="round" fill="none"/>
<circle cx="750.78" cy="216.80" r="5.0" fill="#cd8bce" stroke="#9c179e" stroke-width="3.7"/>
<circle cx="794.20" cy="210.80" r="5.0" fill="#cd8bce" stroke="#9c179e" stroke-width="3.7"/>
<circle cx="839.90" cy="198.40" r="5.0" fill="#cd8bce" stroke="#9c179e" stroke-width="3.7"/>
<circle cx="885.60" cy="184.80" r="5.0" fill="#cd8bce" stroke="#9c179e" stroke-width="3.7"/>
<circle cx="931.30" cy="172.30" r="5.0" fill="#cd8bce" stroke="#9c179e" stroke-width="3.7"/>
<circle cx="977.00" cy="158.00" r="5.0" fill="#cd8bce" stroke="#9c179e" stroke-width="3.7"/>
<circle cx="1022.70" cy="144.80" r="5.0" fill="#cd8bce" stroke="#9c179e" stroke-width="3.7"/>
<circle cx="1068.40" cy="138.40" r="5.0" fill="#cd8bce" stroke="#9c179e" stroke-width="3.7"/>
<circle cx="1114.10" cy="130.70" r="5.0" fill="#cd8bce" stroke="#9c179e" stroke-width="3.7"/>
<circle cx="750.78" cy="216.80" r="5.0" fill="#ffdd83" stroke="#ffba08" stroke-width="3.7"/>
<circle cx="794.20" cy="224.00" r="5.0" fill="#ffdd83" stroke="#ffba08" stroke-width="3.7"/>
<circle cx="839.90" cy="233.20" r="5.0" fill="#ffdd83" stroke="#ffba08" stroke-width="3.7"/>
<circle cx="885.60" cy="243.80" r="5.0" fill="#ffdd83" stroke="#ffba08" stroke-width="3.7"/>
<circle cx="931.30" cy="258.90" r="5.0" fill="#ffdd83" stroke="#ffba08" stroke-width="3.7"/>
<circle cx="977.00" cy="267.00" r="5.0" fill="#ffdd83" stroke="#ffba08" stroke-width="3.7"/>
<circle cx="1022.70" cy="274.90" r="5.0" fill="#ffdd83" stroke="#ffba08" stroke-width="3.7"/>
<circle cx="1068.40" cy="270.80" r="5.0" fill="#ffdd83" stroke="#ffba08" stroke-width="3.7"/>
<circle cx="1114.10" cy="249.50" r="5.0" fill="#ffdd83" stroke="#ffba08" stroke-width="3.7"/>
<circle cx="750.78" cy="216.80" r="5.0" fill="#97e2da" stroke="#2ec4b6" stroke-width="3.7"/>
<circle cx="794.20" cy="210.20" r="5.0" fill="#97e2da" stroke="#2ec4b6" stroke-width="3.7"/>
<circle cx="839.90" cy="193.90" r="5.0" fill="#97e2da" stroke="#2ec4b6" stroke-width="3.7"/>
<circle cx="885.60" cy="176.90" r="5.0" fill="#97e2da" stroke="#2ec4b6" stroke-width="3.7"/>
<circle cx="931.30" cy="158.90" r="5.0" fill="#97e2da" stroke="#2ec4b6" stroke-width="3.7"/>
<circle cx="977.00" cy="146.60" r="5.0" fill="#97e2da" stroke="#2ec4b6" stroke-width="3.7"/>
<circle cx="1022.70" cy="130.70" r="5.0" fill="#97e2da" stroke="#2ec4b6" stroke-width="3.7"/>
<circle cx="1068.40" cy="123.70" r="5.0" fill="#97e2da" stroke="#2ec4b6" stroke-width="3.7"/>
<circle cx="1114.10" cy="121.40" r="5.0" fill="#97e2da" stroke="#2ec4b6" stroke-width="3.7"/>
<rect x="725.60" y="72.20" width="433.80" height="264.80" fill="none" stroke="#000" stroke-width="1.9"/>
<circle cx="758.4" cy="95.6" r="13.9" fill="#c78fd3"/>
<circle cx="762.20" cy="95.60" r="6.85" fill="#ff8585" stroke="#ff0000" stroke-width="3.5"/>
<circle cx="754.80" cy="95.60" r="6.85" fill="#a3b5e2" stroke="#4169c8" stroke-width="3.5"/>
<circle cx="758.4" cy="126.8" r="13.9" fill="#ffe08c"/>
<circle cx="762.20" cy="126.80" r="6.85" fill="#ff8585" stroke="#ff0000" stroke-width="3.5"/>
<circle cx="754.80" cy="126.80" r="6.85" fill="#78c578" stroke="#009a00" stroke-width="3.5"/>
<circle cx="758.4" cy="157.4" r="13.9" fill="#a2e8e0"/>
<circle cx="762.20" cy="157.40" r="6.85" fill="#52b552" stroke="#009a00" stroke-width="3.5"/>
<circle cx="754.80" cy="157.40" r="6.85" fill="#a3b5e2" stroke="#4169c8" stroke-width="3.5"/>
<circle cx="905.2" cy="96.0" r="15.5" fill="#a9a9a9"/>
<circle cx="905.50" cy="91.60" r="6.85" fill="#52b552" stroke="#009a00" stroke-width="3.5"/>
<circle cx="910.00" cy="99.00" r="6.85" fill="#ff8585" stroke="#ff0000" stroke-width="3.5"/>
<circle cx="901.20" cy="99.00" r="6.85" fill="#a3b5e2" stroke="#4169c8" stroke-width="3.5"/>
<path d="M748.60 730.40v-14.5M862.85 730.40v-14.5M977.10 730.40v-14.5M1091.35 730.40v-14.5M725.70 679.70h14.5M1159.40 679.70h-14.5M725.70 603.50h14.5M1159.40 603.50h-14.5M725.70 527.30h14.5M1159.40 527.30h-14.5" stroke="#7f7f7f" stroke-width="1.1" fill="none"/>
<path d="M723.0 603.5H1158.9" stroke="#000" stroke-width="3.6" stroke-dasharray="10.55 10.22" fill="none" clip-path="url(#clipD)"/>
<clipPath id="clipD"><rect x="725.7" y="465.6" width="423.4" height="264.79999999999995"/></clipPath>
<path d="M759.80 604.10L762.18 603.70L764.56 603.32L766.94 602.94L769.31 602.58L771.69 602.24L774.07 601.90L776.45 601.59L778.83 601.28L781.21 600.99L783.59 600.71L785.96 600.44L788.34 600.19L790.72 599.96L793.10 599.73L795.48 599.52L797.86 599.33L800.23 599.15L802.61 598.99L804.99 598.84L807.37 598.71L809.75 598.59L812.13 598.48L814.51 598.40L816.88 598.32L819.26 598.27L821.64 598.23L824.02 598.20L826.40 598.19L828.78 598.20L831.16 598.22L833.53 598.25L835.91 598.30L838.29 598.35L840.67 598.42L843.05 598.49L845.43 598.58L847.81 598.68L850.18 598.80L852.56 598.94L854.94 599.11L857.32 599.30L859.70 599.52L862.08 599.77L864.46 600.06L866.83 600.38L869.21 600.74L871.59 601.13L873.97 601.55L876.35 602.00L878.73 602.48L881.10 602.97L883.48 603.49L885.86 604.03L888.24 604.58L890.62 605.15L893.00 605.73L895.38 606.33L897.75 606.95L900.13 607.60L902.51 608.26L904.89 608.96L907.27 609.68L909.65 610.44L912.03 611.22L914.40 612.05L916.78 612.90L919.16 613.77L921.54 614.64L923.92 615.50L926.30 616.33L928.68 617.12L931.05 617.84L933.43 618.50L935.81 619.08L938.19 619.61L940.57 620.09L942.95 620.53L945.32 620.95L947.70 621.35L950.08 621.75L952.46 622.15L954.84 622.57L957.22 623.02L959.60 623.49L961.97 623.99L964.35 624.52L966.73 625.06L969.11 625.63L971.49 626.21L973.87 626.81L976.25 627.43L978.62 628.06L981.00 628.70L983.38 629.35L985.76 630.01L988.14 630.67L990.52 631.34L992.90 632.01L995.27 632.68L997.65 633.36L1000.03 634.03L1002.41 634.69L1004.79 635.35L1007.17 636.00L1009.54 636.65L1011.92 637.28L1014.30 637.90L1016.68 638.50L1019.06 639.09L1021.44 639.66L1023.82 640.21L1026.19 640.74L1028.57 641.25L1030.95 641.73L1033.33 642.20L1035.71 642.64L1038.09 643.06L1040.47 643.46L1042.84 643.84L1045.22 644.20L1047.60 644.53L1049.98 644.84L1052.36 645.13L1054.74 645.39L1057.12 645.64L1059.49 645.86L1061.87 646.05L1064.25 646.23L1066.63 646.37L1069.01 646.50L1071.39 646.60L1073.77 646.68L1076.14 646.73L1078.52 646.76L1080.90 646.77L1083.28 646.75L1085.66 646.71L1088.04 646.64L1090.41 646.54L1092.79 646.42L1095.17 646.28L1097.55 646.11L1099.93 645.92L1102.31 645.70L1104.69 645.45L1107.06 645.18L1109.44 644.88L1111.82 644.55L1114.20 644.20" fill="none" stroke="#b655b8" stroke-width="3.8" stroke-linejoin="round"/>
<path d="M759.80 604.10L762.18 604.23L764.56 604.37L766.94 604.52L769.31 604.67L771.69 604.83L774.07 604.99L776.45 605.16L778.83 605.33L781.21 605.51L783.59 605.68L785.96 605.86L788.34 606.04L790.72 606.21L793.10 606.39L795.48 606.56L797.86 606.73L800.23 606.90L802.61 607.06L804.99 607.22L807.37 607.37L809.75 607.51L812.13 607.65L814.51 607.78L816.88 607.90L819.26 608.00L821.64 608.10L824.02 608.19L826.40 608.26L828.78 608.32L831.16 608.37L833.53 608.42L835.91 608.45L838.29 608.48L840.67 608.51L843.05 608.53L845.43 608.54L847.81 608.54L850.18 608.53L852.56 608.51L854.94 608.47L857.32 608.40L859.70 608.32L862.08 608.21L864.46 608.07L866.83 607.90L869.21 607.71L871.59 607.49L873.97 607.25L876.35 606.98L878.73 606.70L881.10 606.41L883.48 606.10L885.86 605.78L888.24 605.45L890.62 605.12L893.00 604.78L895.38 604.44L897.75 604.09L900.13 603.73L902.51 603.37L904.89 603.00L907.27 602.63L909.65 602.25L912.03 601.87L914.40 601.48L916.78 601.09L919.16 600.70L921.54 600.30L923.92 599.90L926.30 599.50L928.68 599.09L931.05 598.69L933.43 598.29L935.81 597.89L938.19 597.49L940.57 597.09L942.95 596.68L945.32 596.28L947.70 595.87L950.08 595.46L952.46 595.05L954.84 594.63L957.22 594.21L959.60 593.78L961.97 593.35L964.35 592.91L966.73 592.47L969.11 592.03L971.49 591.59L973.87 591.14L976.25 590.69L978.62 590.25L981.00 589.80L983.38 589.35L985.76 588.90L988.14 588.46L990.52 588.01L992.90 587.57L995.27 587.12L997.65 586.68L1000.03 586.25L1002.41 585.82L1004.79 585.39L1007.17 584.96L1009.54 584.54L1011.92 584.13L1014.30 583.72L1016.68 583.32L1019.06 582.92L1021.44 582.54L1023.82 582.15L1026.19 581.78L1028.57 581.42L1030.95 581.06L1033.33 580.71L1035.71 580.37L1038.09 580.04L1040.47 579.71L1042.84 579.40L1045.22 579.09L1047.60 578.79L1049.98 578.50L1052.36 578.22L1054.74 577.95L1057.12 577.68L1059.49 577.43L1061.87 577.18L1064.25 576.95L1066.63 576.72L1069.01 576.50L1071.39 576.29L1073.77 576.09L1076.14 575.90L1078.52 575.72L1080.90 575.55L1083.28 575.39L1085.66 575.23L1088.04 575.09L1090.41 574.96L1092.79 574.84L1095.17 574.73L1097.55 574.62L1099.93 574.53L1102.31 574.45L1104.69 574.38L1107.06 574.32L1109.44 574.27L1111.82 574.23L1114.20 574.20" fill="none" stroke="#ffcb45" stroke-width="3.8" stroke-linejoin="round"/>
<path d="M759.80 604.10L762.18 603.67L764.56 603.26L766.94 602.86L769.31 602.47L771.69 602.09L774.07 601.73L776.45 601.38L778.83 601.05L781.21 600.73L783.59 600.42L785.96 600.13L788.34 599.86L790.72 599.59L793.10 599.35L795.48 599.12L797.86 598.90L800.23 598.70L802.61 598.52L804.99 598.35L807.37 598.20L809.75 598.06L812.13 597.94L814.51 597.84L816.88 597.75L819.26 597.69L821.64 597.64L824.02 597.60L826.40 597.59L828.78 597.59L831.16 597.61L833.53 597.64L835.91 597.69L838.29 597.75L840.67 597.82L843.05 597.91L845.43 598.01L847.81 598.12L850.18 598.26L852.56 598.42L854.94 598.61L857.32 598.82L859.70 599.07L862.08 599.35L864.46 599.66L866.83 600.02L869.21 600.41L871.59 600.83L873.97 601.29L876.35 601.78L878.73 602.29L881.10 602.83L883.48 603.40L885.86 603.98L888.24 604.59L890.62 605.21L893.00 605.86L895.38 606.52L897.75 607.21L900.13 607.92L902.51 608.65L904.89 609.42L907.27 610.21L909.65 611.03L912.03 611.88L914.40 612.77L916.78 613.68L919.16 614.61L921.54 615.56L923.92 616.50L926.30 617.43L928.68 618.33L931.05 619.21L933.43 620.03L935.81 620.82L938.19 621.57L940.57 622.30L942.95 622.99L945.32 623.68L947.70 624.35L950.08 625.01L952.46 625.68L954.84 626.35L957.22 627.04L959.60 627.74L961.97 628.46L964.35 629.18L966.73 629.91L969.11 630.65L971.49 631.40L973.87 632.15L976.25 632.91L978.62 633.67L981.00 634.44L983.38 635.20L985.76 635.96L988.14 636.72L990.52 637.48L992.90 638.23L995.27 638.98L997.65 639.72L1000.03 640.45L1002.41 641.17L1004.79 641.88L1007.17 642.58L1009.54 643.26L1011.92 643.93L1014.30 644.59L1016.68 645.23L1019.06 645.84L1021.44 646.44L1023.82 647.02L1026.19 647.58L1028.57 648.11L1030.95 648.62L1033.33 649.11L1035.71 649.58L1038.09 650.03L1040.47 650.46L1042.84 650.86L1045.22 651.24L1047.60 651.60L1049.98 651.94L1052.36 652.26L1054.74 652.56L1057.12 652.84L1059.49 653.09L1061.87 653.33L1064.25 653.54L1066.63 653.73L1069.01 653.90L1071.39 654.05L1073.77 654.18L1076.14 654.29L1078.52 654.37L1080.90 654.44L1083.28 654.48L1085.66 654.51L1088.04 654.51L1090.41 654.50L1092.79 654.46L1095.17 654.40L1097.55 654.32L1099.93 654.22L1102.31 654.10L1104.69 653.96L1107.06 653.80L1109.44 653.62L1111.82 653.42L1114.20 653.20" fill="none" stroke="#5fd2c8" stroke-width="3.8" stroke-linejoin="round"/>
<path d="M840.00 619.80V650.00M931.40 591.40V635.60M1022.80 620.30V685.50M1114.20 622.90V686.10" stroke="#9c179e" stroke-width="3.8" stroke-linecap="round" fill="none"/>
<path d="M840.00 573.80V618.60M931.40 524.90V587.70M1022.80 546.40V616.20M1114.20 488.90V569.10" stroke="#ffba08" stroke-width="3.8" stroke-linecap="round" fill="none"/>
<path d="M840.00 625.80V652.00M931.40 627.40V672.20M1022.80 651.90V707.50M1114.20 649.00V705.20" stroke="#2ec4b6" stroke-width="3.8" stroke-linecap="round" fill="none"/>
<circle cx="759.80" cy="604.10" r="5.0" fill="#cd8bce" stroke="#9c179e" stroke-width="3.7"/>
<circle cx="840.00" cy="634.90" r="5.0" fill="#cd8bce" stroke="#9c179e" stroke-width="3.7"/>
<circle cx="931.40" cy="613.50" r="5.0" fill="#cd8bce" stroke="#9c179e" stroke-width="3.7"/>
<circle cx="1022.80" cy="652.90" r="5.0" fill="#cd8bce" stroke="#9c179e" stroke-width="3.7"/>
<circle cx="1114.20" cy="654.50" r="5.0" fill="#cd8bce" stroke="#9c179e" stroke-width="3.7"/>
<circle cx="759.80" cy="604.30" r="5.0" fill="#ffdd83" stroke="#ffba08" stroke-width="3.7"/>
<circle cx="840.00" cy="596.20" r="5.0" fill="#ffdd83" stroke="#ffba08" stroke-width="3.7"/>
<circle cx="931.40" cy="556.30" r="5.0" fill="#ffdd83" stroke="#ffba08" stroke-width="3.7"/>
<circle cx="1022.80" cy="581.30" r="5.0" fill="#ffdd83" stroke="#ffba08" stroke-width="3.7"/>
<circle cx="1114.20" cy="529.00" r="5.0" fill="#ffdd83" stroke="#ffba08" stroke-width="3.7"/>
<circle cx="759.80" cy="604.10" r="5.0" fill="#97e2da" stroke="#2ec4b6" stroke-width="3.7"/>
<circle cx="840.00" cy="638.90" r="5.0" fill="#97e2da" stroke="#2ec4b6" stroke-width="3.7"/>
<circle cx="931.40" cy="649.80" r="5.0" fill="#97e2da" stroke="#2ec4b6" stroke-width="3.7"/>
<circle cx="1022.80" cy="679.70" r="5.0" fill="#97e2da" stroke="#2ec4b6" stroke-width="3.7"/>
<circle cx="1114.20" cy="677.10" r="5.0" fill="#97e2da" stroke="#2ec4b6" stroke-width="3.7"/>
<rect x="725.70" y="465.60" width="433.70" height="264.80" fill="none" stroke="#000" stroke-width="1.9"/>
<text transform="translate(149.47,372.60) scale(1.0500,1.0682)" style="font:34px 'Liberation Serif'" fill="#000" stroke="#fff" stroke-width="0.408">0</text>
<text transform="translate(250.34,372.60) scale(1.0500,1.0682)" style="font:34px 'Liberation Serif'" fill="#000" stroke="#fff" stroke-width="0.408">0.5</text>
<text transform="translate(377.97,372.60) scale(1.0500,1.0682)" style="font:34px 'Liberation Serif'" fill="#000" stroke="#fff" stroke-width="0.408">1</text>
<text transform="translate(478.31,372.60) scale(1.0500,1.0682)" style="font:34px 'Liberation Serif'" fill="#000" stroke="#fff" stroke-width="0.408">1.5</text>
<text transform="translate(106.20,325.05) scale(1.0500,1.0682)" style="font:34px 'Liberation Serif'" fill="#000" stroke="#fff" stroke-width="0.408">0</text>
<text transform="translate(79.42,228.45) scale(1.0500,1.0682)" style="font:34px 'Liberation Serif'" fill="#000" stroke="#fff" stroke-width="0.408">0.2</text>
<text transform="translate(78.38,131.85) scale(1.0500,1.0682)" style="font:34px 'Liberation Serif'" fill="#000" stroke="#fff" stroke-width="0.408">0.4</text>
<text transform="translate(152.17,745.70) scale(1.0500,1.0682)" style="font:34px 'Liberation Serif'" fill="#000" stroke="#fff" stroke-width="0.408">0</text>
<text transform="translate(266.96,745.70) scale(1.0500,1.0682)" style="font:34px 'Liberation Serif'" fill="#000" stroke="#fff" stroke-width="0.408">0.1</text>
<text transform="translate(394.09,745.70) scale(1.0500,1.0682)" style="font:34px 'Liberation Serif'" fill="#000" stroke="#fff" stroke-width="0.408">0.2</text>
<text transform="translate(521.74,745.70) scale(1.0500,1.0682)" style="font:34px 'Liberation Serif'" fill="#000" stroke="#fff" stroke-width="0.408">0.3</text>
<text transform="translate(106.20,708.45) scale(1.0500,1.0682)" style="font:34px 'Liberation Serif'" fill="#000" stroke="#fff" stroke-width="0.408">0</text>
<text transform="translate(79.42,652.81) scale(1.0500,1.0682)" style="font:34px 'Liberation Serif'" fill="#000" stroke="#fff" stroke-width="0.408">0.2</text>
<text transform="translate(78.38,597.17) scale(1.0500,1.0682)" style="font:34px 'Liberation Serif'" fill="#000" stroke="#fff" stroke-width="0.408">0.4</text>
<text transform="translate(79.42,541.53) scale(1.0500,1.0682)" style="font:34px 'Liberation Serif'" fill="#000" stroke="#fff" stroke-width="0.408">0.6</text>
<text transform="translate(79.42,485.89) scale(1.0500,1.0682)" style="font:34px 'Liberation Serif'" fill="#000" stroke="#fff" stroke-width="0.408">0.8</text>
<text transform="translate(739.58,372.60) scale(1.0500,1.0682)" style="font:34px 'Liberation Serif'" fill="#000" stroke="#fff" stroke-width="0.408">0</text>
<text transform="translate(840.44,372.60) scale(1.0500,1.0682)" style="font:34px 'Liberation Serif'" fill="#000" stroke="#fff" stroke-width="0.408">0.5</text>
<text transform="translate(968.07,372.60) scale(1.0500,1.0682)" style="font:34px 'Liberation Serif'" fill="#000" stroke="#fff" stroke-width="0.408">1</text>
<text transform="translate(1068.41,372.60) scale(1.0500,1.0682)" style="font:34px 'Liberation Serif'" fill="#000" stroke="#fff" stroke-width="0.408">1.5</text>
<text transform="translate(695.40,347.65) scale(1.0500,1.0682)" style="font:34px 'Liberation Serif'" fill="#000" stroke="#fff" stroke-width="0.408">5</text>
<path d="M670.85 338.55h21.2" stroke="#000" stroke-width="1.5" fill="none"/>
<text transform="translate(695.40,228.45) scale(1.0500,1.0682)" style="font:34px 'Liberation Serif'" fill="#000" stroke="#fff" stroke-width="0.408">0</text>
<text transform="translate(695.40,107.95) scale(1.0500,1.0682)" style="font:34px 'Liberation Serif'" fill="#000" stroke="#fff" stroke-width="0.408">5</text>
<text transform="translate(739.68,765.60) scale(1.0500,1.0682)" style="font:34px 'Liberation Serif'" fill="#000" stroke="#fff" stroke-width="0.408">0</text>
<text transform="translate(840.54,765.60) scale(1.0500,1.0682)" style="font:34px 'Liberation Serif'" fill="#000" stroke="#fff" stroke-width="0.408">0.5</text>
<text transform="translate(968.17,765.60) scale(1.0500,1.0682)" style="font:34px 'Liberation Serif'" fill="#000" stroke="#fff" stroke-width="0.408">1</text>
<text transform="translate(1068.51,765.60) scale(1.0500,1.0682)" style="font:34px 'Liberation Serif'" fill="#000" stroke="#fff" stroke-width="0.408">1.5</text>
<text transform="translate(696.20,691.35) scale(1.0500,1.0682)" style="font:34px 'Liberation Serif'" fill="#000" stroke="#fff" stroke-width="0.408">2</text>
<path d="M671.65 682.25h21.2" stroke="#000" stroke-width="1.5" fill="none"/>
<text transform="translate(696.20,615.15) scale(1.0500,1.0682)" style="font:34px 'Liberation Serif'" fill="#000" stroke="#fff" stroke-width="0.408">0</text>
<text transform="translate(696.20,538.95) scale(1.0500,1.0682)" style="font:34px 'Liberation Serif'" fill="#000" stroke="#fff" stroke-width="0.408">2</text>
<text transform="translate(276.23,409.80) scale(1.0683,1.0000)" style="font:35px 'Liberation Serif'" fill="#000" stroke="#fff" stroke-width="0.42">Density,</text>
<text transform="translate(408.59,409.80) scale(1.2125,1.0000)" style="font:italic 35px 'Liberation Serif'" fill="#000" stroke="#fff" stroke-width="0.42">n</text>
<text transform="translate(866.33,803.20) scale(1.0683,1.0000)" style="font:35px 'Liberation Serif'" fill="#000" stroke="#fff" stroke-width="0.42">Density,</text>
<text transform="translate(998.69,803.20) scale(1.2125,1.0000)" style="font:italic 35px 'Liberation Serif'" fill="#000" stroke="#fff" stroke-width="0.42">n</text>
<text transform="translate(193.16,787.20) scale(1.0425,1.0000)" style="font:35px 'Liberation Serif'" fill="#000" stroke="#fff" stroke-width="0.42">Compressibility,</text>
<text transform="translate(445.74,787.20) scale(0.9588,1.0000)" style="font:italic 35px 'Liberation Serif'" fill="#000" stroke="#fff" stroke-width="0.42">κ</text>
<text transform="translate(465.74,787.20) scale(1.0625,1.0000)" style="font:italic 35px 'Liberation Serif'" fill="#000" stroke="#fff" stroke-width="0.42">n</text>
<text transform="translate(486.25,775.20) scale(0.9455,0.9176)" style="font:25px 'Liberation Serif'" fill="#000" stroke="#fff" stroke-width="0.3">2</text>
<text transform="translate(500.66,787.20) scale(1.0400,1.0000)" style="font:italic 35px 'Liberation Serif'" fill="#000" stroke="#fff" stroke-width="0.42">t</text>
<path d="M741.4 44.10l16.6 16.6m0 -16.6l-16.6 16.6" stroke="#000" stroke-width="1.45" fill="none"/>
<text transform="translate(764.86,61.20) scale(0.8692,1.0455)" style="font:34px 'Liberation Serif'" fill="#000" stroke="#fff" stroke-width="0.408">1</text>
<text transform="translate(781.30,61.20) scale(1.0000,1.0455)" style="font:34px 'Liberation Serif'" fill="#000" stroke="#fff" stroke-width="0.408">0</text>
<path d="M801.0 42.30h15.8" stroke="#000" stroke-width="1.35" fill="none"/>
<text transform="translate(819.88,49.40) scale(1.0182,0.9765)" style="font:25px 'Liberation Serif'" fill="#000" stroke="#fff" stroke-width="0.3">2</text>
<path d="M741.4 437.50l16.6 16.6m0 -16.6l-16.6 16.6" stroke="#000" stroke-width="1.45" fill="none"/>
<text transform="translate(764.86,454.60) scale(0.8692,1.0455)" style="font:34px 'Liberation Serif'" fill="#000" stroke="#fff" stroke-width="0.408">1</text>
<text transform="translate(781.30,454.60) scale(1.0000,1.0455)" style="font:34px 'Liberation Serif'" fill="#000" stroke="#fff" stroke-width="0.408">0</text>
<path d="M801.0 435.70h15.8" stroke="#000" stroke-width="1.35" fill="none"/>
<text transform="translate(819.88,442.80) scale(1.0182,0.9765)" style="font:25px 'Liberation Serif'" fill="#000" stroke="#fff" stroke-width="0.3">3</text>
<text transform="translate(25.90,35.40) scale(0.9333,1.0435)" style="font:bold 34px 'Liberation Sans'" fill="#000">A</text>
<text transform="translate(25.86,433.40) scale(0.9182,1.0435)" style="font:bold 34px 'Liberation Sans'" fill="#000">B</text>
<text transform="translate(635.69,35.50) scale(0.9087,1.0522)" style="font:bold 34px 'Liberation Sans'" fill="#000">C</text>
<text transform="translate(633.86,438.30) scale(1.0182,1.0435)" style="font:bold 34px 'Liberation Sans'" fill="#000">D</text>
<text transform="translate(41.60,257.90) rotate(-90) scale(1.2000,1.0000)" style="font:italic 35px 'Liberation Serif'" fill="#000" stroke="#fff" stroke-width="0.42">n</text>
<text transform="translate(28.20,234.40) rotate(-90) scale(0.9077,1.0000)" style="font:italic 25px 'Liberation Serif'" fill="#000" stroke="#fff" stroke-width="0.3">d</text>
<text transform="translate(51.20,235.90) rotate(-90) scale(0.9500,1.0000)" style="font:italic 25px 'Liberation Serif'" fill="#000" stroke="#fff" stroke-width="0.3">α</text>
<text transform="translate(51.20,218.39) rotate(-90) scale(1.1071,1.0000)" style="font:italic 25px 'Liberation Serif'" fill="#000" stroke="#fff" stroke-width="0.3">β</text>
<text transform="translate(41.60,198.30) rotate(-90) scale(0.7000,1.0000)" style="font:35px 'Liberation Serif'" fill="#000" stroke="#fff" stroke-width="0.42">,</text>
<text transform="translate(41.60,184.16) rotate(-90) scale(1.1625,1.0000)" style="font:italic 35px 'Liberation Serif'" fill="#000" stroke="#fff" stroke-width="0.42">n</text>
<text transform="translate(28.00,163.06) rotate(-90) scale(0.9571,1.0000)" style="font:italic 25px 'Liberation Serif'" fill="#000" stroke="#fff" stroke-width="0.3">t</text>
<g fill="none" stroke="#000" stroke-linejoin="round"><path d="M38.4 591.4C34.8 589.4 32.4 585.0 32.3 579.7C32.2 575.0 32.6 572.0 33.6 569.8C35.0 567.0 37.4 566.2 40.0 566.4C44.6 566.8 47.8 569.4 49.7 572.4C53.0 577.6 54.6 583.0 54.9 589.0" stroke-width="1.8" stroke-linecap="round"/><path d="M38.4 591.4C34.8 589.4 32.4 585.0 32.3 579.7C32.2 575.0 32.6 572.0 33.6 569.8C35.0 567.0 37.4 566.2 40.0 566.4C44.6 566.8 47.8 569.4 49.7 572.4C53.0 577.6 54.6 583.0 54.9 589.0" stroke-width="2.9" pathLength="100" stroke-dasharray="0 31 26 100"/><path d="M38.4 591.4C34.8 589.4 32.4 585.0 32.3 579.7C32.2 575.0 32.6 572.0 33.6 569.8C35.0 567.0 37.4 566.2 40.0 566.4C44.6 566.8 47.8 569.4 49.7 572.4C53.0 577.6 54.6 583.0 54.9 589.0" stroke-width="2.3" pathLength="100" stroke-dasharray="0 25 38 100"/><path d="M33.0 580.6Q44 582.3 54.8 587.0" stroke-width="2.8" stroke-linecap="round"/></g>
<text transform="translate(665.60,236.03) rotate(-90) scale(1.0304,1.0250)" style="font:italic 35px 'Liberation Serif'" fill="#000" stroke="#fff" stroke-width="0.42">C</text>
<text transform="translate(649.60,207.70) rotate(-90) scale(1.0643,1.0000)" style="font:italic 25px 'Liberation Serif'" fill="#000" stroke="#fff" stroke-width="0.3">α</text>
<text transform="translate(649.60,189.27) rotate(-90) scale(1.0286,1.0000)" style="font:italic 25px 'Liberation Serif'" fill="#000" stroke="#fff" stroke-width="0.3">β</text>
<text transform="translate(674.90,210.70) rotate(-90) scale(1.1167,0.9529)" style="font:bold 25px 'Liberation Serif'" fill="#000">0</text>
<text transform="translate(665.60,629.53) rotate(-90) scale(1.0304,1.0250)" style="font:italic 35px 'Liberation Serif'" fill="#000" stroke="#fff" stroke-width="0.42">C</text>
<text transform="translate(649.60,601.20) rotate(-90) scale(1.0643,1.0000)" style="font:italic 25px 'Liberation Serif'" fill="#000" stroke="#fff" stroke-width="0.3">α</text>
<text transform="translate(649.60,582.77) rotate(-90) scale(1.0286,1.0000)" style="font:italic 25px 'Liberation Serif'" fill="#000" stroke="#fff" stroke-width="0.3">β</text>
<text transform="translate(674.90,605.48) rotate(-90) scale(1.1400,0.9353)" style="font:bold 25px 'Liberation Serif'" fill="#000">1</text>
<path d="M792.60 87.30v16.8M810.50 87.30l4.6 8.4l-4.6 8.4" stroke="#000" stroke-width="1.25" fill="none"/>
<text transform="translate(797.01,100.30) scale(1.2200,0.9727)" style="font:16px 'Liberation Serif'" fill="#000">1</text>
<path d="M826.90 95.70h13.1" stroke="#000" stroke-width="1.25" fill="none"/>
<path d="M852.60 87.30v16.8M870.50 87.30l4.6 8.4l-4.6 8.4" stroke="#000" stroke-width="1.25" fill="none"/>
<text transform="translate(857.62,100.30) scale(1.2200,0.9727)" style="font:16px 'Liberation Serif'" fill="#000">3</text>
<path d="M792.60 118.10v16.8M810.50 118.10l4.6 8.4l-4.6 8.4" stroke="#000" stroke-width="1.25" fill="none"/>
<text transform="translate(797.01,131.10) scale(1.2200,0.9727)" style="font:16px 'Liberation Serif'" fill="#000">1</text>
<path d="M826.90 126.50h13.1" stroke="#000" stroke-width="1.25" fill="none"/>
<path d="M852.60 118.10v16.8M870.50 118.10l4.6 8.4l-4.6 8.4" stroke="#000" stroke-width="1.25" fill="none"/>
<text transform="translate(857.62,131.10) scale(1.2200,0.9727)" style="font:16px 'Liberation Serif'" fill="#000">2</text>
<path d="M792.60 148.90v16.8M810.50 148.90l4.6 8.4l-4.6 8.4" stroke="#000" stroke-width="1.25" fill="none"/>
<text transform="translate(797.62,161.90) scale(1.2200,0.9727)" style="font:16px 'Liberation Serif'" fill="#000">2</text>
<path d="M826.90 157.30h13.1" stroke="#000" stroke-width="1.25" fill="none"/>
<path d="M852.60 148.90v16.8M870.50 148.90l4.6 8.4l-4.6 8.4" stroke="#000" stroke-width="1.25" fill="none"/>
<text transform="translate(857.62,161.90) scale(1.2200,0.9727)" style="font:16px 'Liberation Serif'" fill="#000">3</text>
<path d="M931.40 87.30v16.8M949.30 87.30l4.6 8.4l-4.6 8.4" stroke="#000" stroke-width="1.25" fill="none"/>
<text transform="translate(935.81,100.30) scale(1.2200,0.9727)" style="font:16px 'Liberation Serif'" fill="#000">1</text>
<path d="M965.70 95.70h13.1" stroke="#000" stroke-width="1.25" fill="none"/>
<path d="M991.40 87.30v16.8M1009.30 87.30l4.6 8.4l-4.6 8.4" stroke="#000" stroke-width="1.25" fill="none"/>
<text transform="translate(996.42,100.30) scale(1.2200,0.9727)" style="font:16px 'Liberation Serif'" fill="#000">2</text>
<path d="M1025.70 95.70h13.1" stroke="#000" stroke-width="1.25" fill="none"/>
<path d="M1051.40 87.30v16.8M1069.30 87.30l4.6 8.4l-4.6 8.4" stroke="#000" stroke-width="1.25" fill="none"/>
<text transform="translate(1056.42,100.30) scale(1.2200,0.9727)" style="font:16px 'Liberation Serif'" fill="#000">3</text>
</svg>
</body></html>
